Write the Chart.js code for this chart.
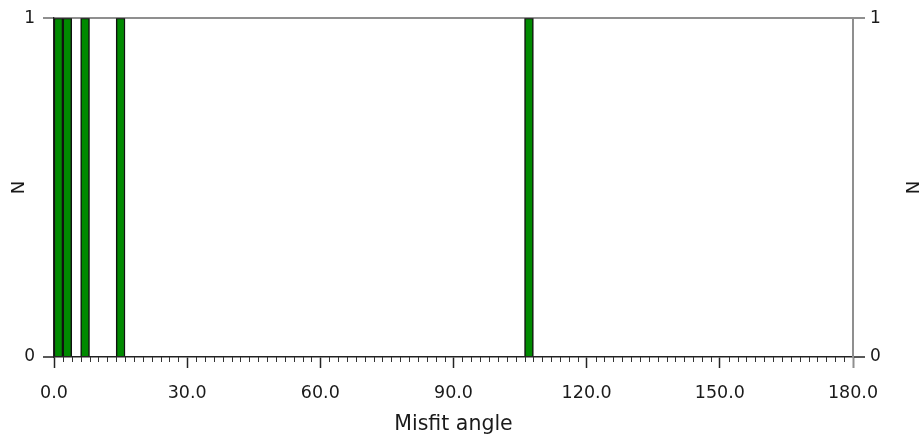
<!DOCTYPE html>
<html lang="en">
    <head>
        <meta charset="UTF-8" />
        <title>Misfit angle histogram</title>
        <style>
            body {
                margin: 0;
                background: white;
            }
        </style>
    </head>
    <body>
        <canvas id="misfitChart" width="922" height="442"></canvas>

        <script src="https://cdn.jsdelivr.net/npm/chart.js"></script>
        <script>
            // histogram bins (2 degree wide), centre of each filled bin
            const binCenters = [1, 3, 7, 15, 107];
            const binCounts = [1, 1, 1, 1, 1];
            const binWidth = 2;
            const xTickValues = [0, 30, 60, 90, 120, 150, 180];
            const yTickValues = [0, 1];

            const font = "DejaVu Sans";
            const textColor = "#1a1a1a";

            const points = binCenters.map(function (c, i) {
                return { x: c, y: binCounts[i] };
            });

            // small ticks every bin along the bottom axis
            const minorTicks = {
                id: "minorTicks",
                afterDraw(chart) {
                    const xs = chart.scales.x;
                    const ctx = chart.ctx;
                    const bottom = chart.chartArea.bottom;
                    ctx.save();
                    ctx.strokeStyle = "#333";
                    ctx.lineWidth = 1;
                    for (let v = xs.min; v <= xs.max; v += binWidth) {
                        if (xTickValues.includes(v)) continue;
                        const px = Math.round(xs.getPixelForValue(v)) + 0.5;
                        ctx.beginPath();
                        ctx.moveTo(px, bottom);
                        ctx.lineTo(px, bottom + 5);
                        ctx.stroke();
                    }
                    ctx.restore();
                },
            };

            const yAxis = function (position) {
                const isLeft = position === "left";
                return {
                    type: "linear",
                    position: position,
                    min: 0,
                    max: 1,
                    afterBuildTicks: function (scale) {
                        scale.ticks = yTickValues.map(function (v) {
                            return { value: v };
                        });
                    },
                    afterFit: function (scale) {
                        scale.width = isLeft ? 54 : 922 - 853;
                    },
                    ticks: {
                        color: textColor,
                        font: { family: font, size: 17 },
                        padding: isLeft ? 8 : 5,
                    },
                    grid: {
                        drawOnChartArea: isLeft,
                        color: function (c) {
                            return c.tick && c.tick.value === 1 ? "#8f8f8f" : "rgba(0,0,0,0)";
                        },
                        lineWidth: 2,
                        tickLength: isLeft ? 11 : 12,
                        tickColor: function (c) {
                            return c.tick && c.tick.value === 1 ? "#8f8f8f" : "#222";
                        },
                        tickWidth: function (c) {
                            return c.tick && c.tick.value === 1 ? 2 : 1.5;
                        },
                    },
                    border: {
                        color: isLeft ? "#222" : "#8f8f8f",
                        width: isLeft ? 1.5 : 2,
                    },
                    title: {
                        display: true,
                        text: "N",
                        color: textColor,
                        font: { family: font, size: 18 },
                        padding: { top: isLeft ? 9 : 1, bottom: 0 },
                    },
                };
            };

            const config = {
                type: "bar",
                data: {
                    datasets: [
                        {
                            label: "N",
                            data: points,
                            backgroundColor: "#008a00",
                            borderColor: "#111",
                            borderWidth: 1.5,
                            barPercentage: 1,
                            categoryPercentage: 1,
                        },
                    ],
                },
                options: {
                    responsive: false,
                    animation: false,
                    layout: { padding: { top: 16, left: 0, right: 0, bottom: 0 } },
                    plugins: {
                        legend: { display: false },
                        tooltip: { enabled: false },
                    },
                    scales: {
                        x: {
                            type: "linear",
                            position: "bottom",
                            offset: false,
                            min: 0,
                            max: 180,
                            afterBuildTicks: function (scale) {
                                scale.ticks = xTickValues.map(function (v) {
                                    return { value: v };
                                });
                            },
                            afterFit: function (scale) {
                                scale.height = 442 - 357;
                            },
                            ticks: {
                                color: textColor,
                                font: { family: font, size: 17.5 },
                                padding: 15,
                                maxRotation: 0,
                                autoSkip: false,
                                callback: function (v) {
                                    return Number(v).toFixed(1);
                                },
                            },
                            grid: {
                                offset: false,
                                drawOnChartArea: false,
                                tickLength: 11,
                                tickColor: function (c) {
                                    return c.tick && c.tick.value === 180 ? "#8f8f8f" : "#222";
                                },
                                tickWidth: function (c) {
                                    return c.tick && c.tick.value === 180 ? 2 : 1.5;
                                },
                            },
                            border: { color: "#222", width: 1.5 },
                            title: {
                                display: true,
                                text: "Misfit angle",
                                color: textColor,
                                font: { family: font, size: 20.5 },
                                padding: { top: 0, bottom: 5 },
                            },
                        },
                        y: yAxis("left"),
                        y2: yAxis("right"),
                    },
                },
                plugins: [minorTicks],
            };

            const misfitChart = new Chart(
                document.getElementById("misfitChart"),
                config
            );
        </script>
    </body>
</html>
